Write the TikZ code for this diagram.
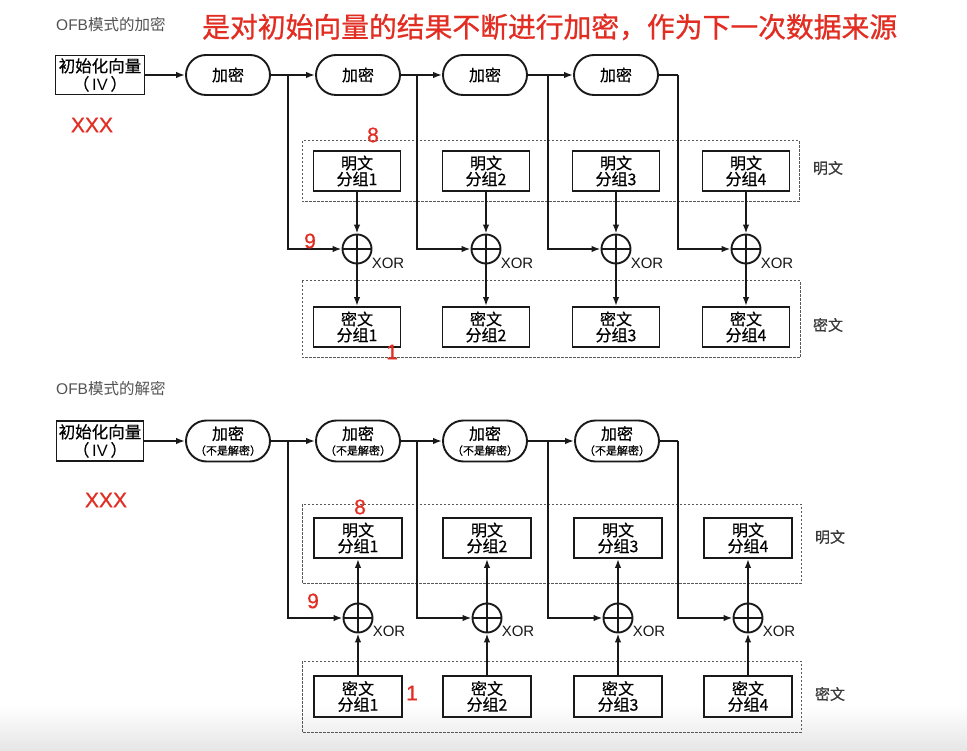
\documentclass[tikz,border=0pt]{standalone}
\usepackage{fontspec}
\setmainfont{Noto Sans CJK SC}
\newfontfamily\latf{Liberation Sans}
\newfontfamily\latb[FakeBold=0.6]{Liberation Sans}
\newfontfamily\cjkm[FakeBold=0.5]{Noto Sans CJK SC}
\newfontfamily\cjkt[FakeBold=0.8]{Noto Sans CJK SC}
\usetikzlibrary{arrows.meta,shapes.misc}
\definecolor{redmark}{RGB}{226,45,35}
\definecolor{ink}{RGB}{25,25,25}
\begin{document}
\begin{tikzpicture}[x=1pt,y=-1pt,
  box/.style={draw=ink,line width=1.9pt,minimum width=87pt,minimum height=40pt,inner sep=0pt,align=center,font=\cjkm\fontsize{16}{16}\selectfont},
  ivbox/.style={box,minimum width=89pt,minimum height=39pt,font=\cjkm\fontsize{16.5}{18}\selectfont},
  encbox/.style={rounded rectangle,draw=ink,line width=1.9pt,minimum width=84pt,minimum height=40pt,inner sep=0pt,align=center,font=\cjkm\fontsize{16}{16}\selectfont},
  xorc/.style={circle,draw=ink,line width=1.9pt,minimum size=29pt,inner sep=0pt,path picture={\draw[ink,line width=1.6pt] (path picture bounding box.north) -- (path picture bounding box.south) (path picture bounding box.west) -- (path picture bounding box.east);}},
  conn/.style={draw=ink,line width=1.6pt},
  arr/.style={conn,-{Latex[length=9pt,width=6.5pt]}},
  dbox/.style={draw=gray!70!black,line width=1pt,dash pattern=on 2.5pt off 1.5pt},
  redlbl/.style={text=redmark,inner sep=0pt,font=\latb\fontsize{21}{21}\selectfont},
  sidelbl/.style={inner sep=0pt,text=ink!85,font=\cjkm\fontsize{15}{15}\selectfont},
  xorlbl/.style={inner sep=0pt,text=ink,font=\latf\fontsize{15}{15}\selectfont},
  titlelbl/.style={inner sep=0pt,anchor=west,text=ink!75,font=\fontsize{15.5}{16}\selectfont},
]
\useasboundingbox (0,0) rectangle (967,751);
\fill[white] (0,0) rectangle (967,751);
\shade[top color=white,bottom color=gray!20] (0,705) rectangle (967,751);

% ---------------- top: encryption ----------------
\node[titlelbl] (ta) at (56,25) {{\latf OFB}模式的加密};
\node[inner sep=0pt,anchor=west,text=redmark,font=\cjkt\fontsize{27.8}{28}\selectfont] (rt) at (202,27) {是对初始向量的结果不断进行加密，作为下一次数据来源};
\node[ivbox] (iva) at (100,75) {初始化向量\\（\,{\latf IV}\,）};
\node[redlbl] (xa) at (92,125) {XXX};

\draw[dbox] (302,141) rectangle (799,202);
\draw[dbox] (302,281) rectangle (800,358);
\node[sidelbl] (pla) at (828,168) {明文};
\node[sidelbl] (cla) at (828,325) {密文};

\foreach \i/\ex/\cx/\jx in {1/228/357/288, 2/358/486/417, 3/485/616/548, 4/616/746/678} {
  \node[encbox] (Ea\i) at (\ex,75) {加密};
  \node[box] (Pa\i) at (\cx,171) {明文\\分组\i};
  \node[xorc] (Xa\i) at (\cx,249) {};
  \node[box] (Ca\i) at (\cx,327) {密文\\分组\i};
  \coordinate (Ja\i) at (\jx,75);
  \node[xorlbl] (XLa\i) at (\cx+31,263) {XOR};
}
\draw[arr] (iva) -- (Ea1);
\foreach \i/\j in {1/2,2/3,3/4} \draw[arr] (Ea\i.east) -- (Ea\j.west);
\draw[conn] (Ea4.east) -- (Ja4);
\foreach \i in {1,...,4} {
  \draw[arr] (Ja\i) |- (Xa\i.west);
  \draw[arr] (Pa\i) -- (Xa\i);
  \draw[arr] (Xa\i) -- (Ca\i);
}
\node[redlbl] (r8a) at (373,135) {8};
\node[redlbl] (r9a) at (310,241) {9};
\node[redlbl] (r1a) at (392,352) {1};

% ---------------- bottom: decryption ----------------
\node[titlelbl] (tb) at (56,389) {{\latf OFB}模式的解密};
\node[ivbox,minimum width=87pt,minimum height=40pt] (ivb) at (100,441) {初始化向量\\（\,{\latf IV}\,）};
\node[redlbl] (xb) at (106,500) {XXX};

\draw[dbox] (302,504) rectangle (801,583);
\draw[dbox] (302,661) rectangle (801,732);
\node[sidelbl] (plb) at (830,537) {明文};
\node[sidelbl] (clb) at (830,694) {密文};

\foreach \i/\ex/\cx/\jx in {1/228/358/288, 2/358/487/417, 3/485/618/548, 4/617/748/678} {
  \node[encbox,minimum height=41pt] (Eb\i) at (\ex,441) {加密\\[-1pt]{\fontsize{11}{11}\selectfont （不是解密）}};
  \node[box,minimum width=88pt] (Pb\i) at (\cx,538) {明文\\分组\i};
  \node[xorc] (Xb\i) at (\cx,618) {};
  \node[box,minimum width=88pt,minimum height=41pt] (Cb\i) at (\cx,696.5) {密文\\分组\i};
  \coordinate (Jb\i) at (\jx,441);
  \node[xorlbl] (XLb\i) at (\cx+31,631) {XOR};
}
\draw[arr] (ivb) -- (Eb1);
\foreach \i/\j in {1/2,2/3,3/4} \draw[arr] (Eb\i.east) -- (Eb\j.west);
\draw[conn] (Eb4.east) -- (Jb4);
\foreach \i in {1,...,4} {
  \draw[arr] (Jb\i) |- (Xb\i.west);
  \draw[arr] (Cb\i) -- (Xb\i);
  \draw[arr] (Xb\i) -- (Pb\i);
}
\node[redlbl] (r8b) at (360,507) {8};
\node[redlbl] (r9b) at (313,601) {9};
\node[redlbl] (r1b) at (412,693) {1};
\end{tikzpicture}
\end{document}
